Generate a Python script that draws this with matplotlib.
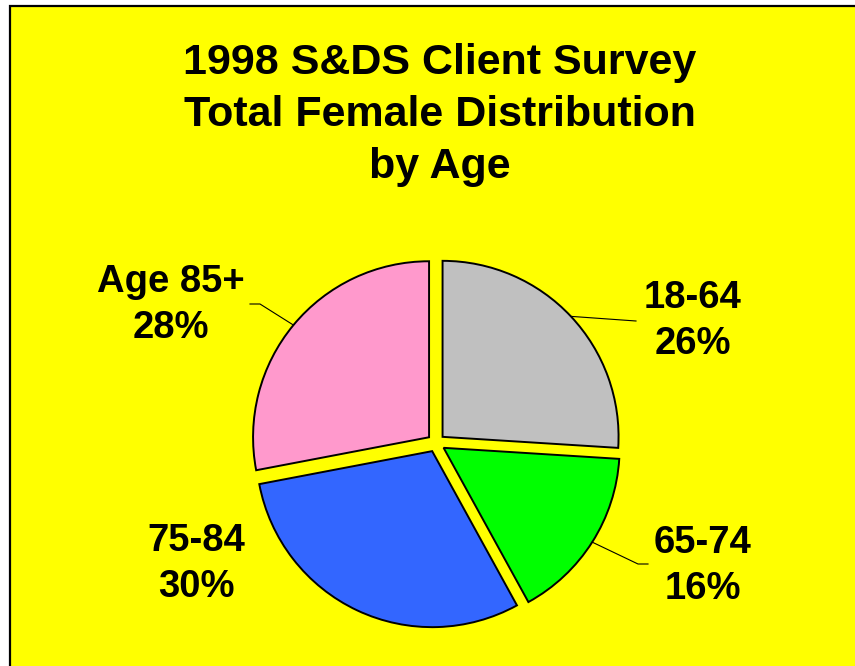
import matplotlib
matplotlib.use("Agg")
import matplotlib.pyplot as plt
from matplotlib.patches import Rectangle
import numpy as np

# data
categories = ["18-64", "65-74", "75-84", "Age 85+"]
shares = [26, 16, 30, 28]
colors = ["#C0C0C0", "#00FF00", "#3366FF", "#FF99CC"]
title = "1998 S&DS Client Survey\nTotal Female Distribution\nby Age"

W, H = 855, 666
FONT = ["Liberation Sans", "DejaVu Sans"]


def img(x, y):
    # image pixel coords (y down) -> data coords (y up)
    return x, H - y


fig = plt.figure(figsize=(W / 100, H / 100), dpi=100)
fig.patch.set_facecolor("white")
ax = fig.add_axes([0, 0, 1, 1])

# yellow panel with black border (right/bottom run off the picture)
ax.add_patch(Rectangle(img(10, 700), 900, 694, facecolor="#FFFF00",
                       edgecolor="black", linewidth=1.6, zorder=0))

center = img(436, 443)
radius = 176
explode = [9] * len(shares)

wedges, _ = ax.pie(shares, colors=colors, startangle=90, counterclock=False,
                   center=center, radius=radius, explode=explode,
                   wedgeprops=dict(edgecolor="black", linewidth=1.4))

ax.set_xlim(0, W)
ax.set_ylim(0, H)
ax.set_aspect("auto")
ax.axis("off")

# label placement (image pixels): text centre, leader elbow/end
label_pos = {"18-64": (693, 321), "65-74": (703, 566),
             "75-84": (196, 564), "Age 85+": (171, 305)}
leaders = {"18-64": [(636, 321)],
           "65-74": [(638, 564), (648, 564)],
           "Age 85+": [(260, 304), (250, 304)]}

for w, cat, pct in zip(wedges, categories, shares):
    tx, ty = img(*label_pos[cat])
    ax.text(tx, ty, f"{cat}\n{pct}%", ha="center", va="center",
            fontsize=27.5, fontweight="bold", family=FONT, linespacing=1.38)
    if cat in leaders:
        ang = np.deg2rad((w.theta1 + w.theta2) / 2)
        cx, cy = w.center
        xs = [cx + w.r * np.cos(ang)] + [img(*p)[0] for p in leaders[cat]]
        ys = [cy + w.r * np.sin(ang)] + [img(*p)[1] for p in leaders[cat]]
        ax.plot(xs, ys, color="black", linewidth=0.8)

tx, ty = img(440, 115)
ax.text(tx, ty, title, ha="center", va="center", fontsize=31,
        fontweight="bold", family=FONT, linespacing=1.4)

fig.savefig("out.png", dpi=100)
